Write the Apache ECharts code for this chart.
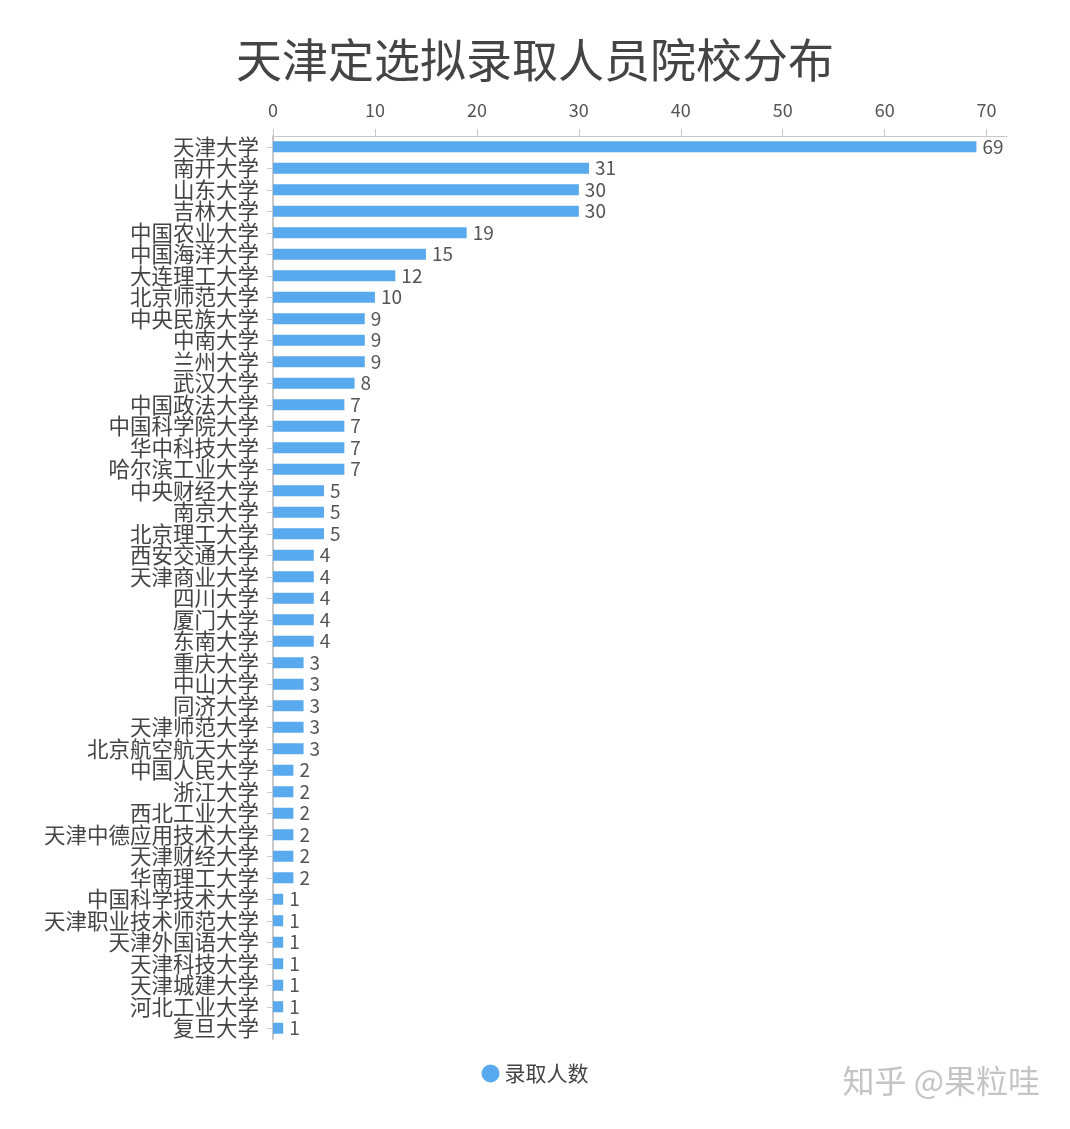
<!DOCTYPE html>
<html><head><meta charset="utf-8">
<script src="https://cdn.jsdelivr.net/npm/echarts@6/dist/echarts.min.js"></script>
<style>html,body{margin:0;padding:0;background:#fff}#c{width:1070px;height:1129px}</style>
</head><body><div id="c"></div>
<script>
const categories = ["天津大学","南开大学","山东大学","吉林大学","中国农业大学","中国海洋大学","大连理工大学","北京师范大学","中央民族大学","中南大学","兰州大学","武汉大学","中国政法大学","中国科学院大学","华中科技大学","哈尔滨工业大学","中央财经大学","南京大学","北京理工大学","西安交通大学","天津商业大学","四川大学","厦门大学","东南大学","重庆大学","中山大学","同济大学","天津师范大学","北京航空航天大学","中国人民大学","浙江大学","西北工业大学","天津中德应用技术大学","天津财经大学","华南理工大学","中国科学技术大学","天津职业技术师范大学","天津外国语大学","天津科技大学","天津城建大学","河北工业大学","复旦大学"];
const counts = [69,31,30,30,19,15,12,10,9,9,9,8,7,7,7,7,5,5,5,4,4,4,4,4,3,3,3,3,3,2,2,2,2,2,2,1,1,1,1,1,1,1];
const xTicks = [0,10,20,30,40,50,60,70];
const seriesName = "录取人数";
const titleText = "天津定选拟录取人员院校分布";
const watermark = "知乎 @果粒哇";

const chart = echarts.init(document.getElementById('c'));
const font = '"Noto Sans CJK SC","Noto Sans",sans-serif';
chart.setOption({
  animation: false,
  textStyle: {fontFamily: font},
  title: {text: titleText, left: 'center', top: 32,
    textStyle: {fontSize: 46, fontWeight: 'normal', color: '#444', fontFamily: font}},
  legend: {data: [seriesName], bottom: 40, left: 'center', icon: 'circle', itemWidth: 18, itemHeight: 18,
    textStyle: {fontSize: 21, color: '#444'}},
  grid: {left: 273, right: 63, top: 136, bottom: 90, containLabel: false},
  xAxis: {type: 'value', position: 'top', min: 0, max: 72, interval: 10,
    axisLine: {show: true, lineStyle: {color: '#c8c8c8'}},
    axisTick: {show: true, length: 7, lineStyle: {color: '#c8c8c8'}, customValues: xTicks},
    axisLabel: {fontSize: 18, color: '#555', margin: 17, customValues: xTicks},
    splitLine: {show: false}},
  yAxis: {type: 'category', inverse: true, data: categories,
    axisLine: {show: true, lineStyle: {color: '#c8c8c8', width: 2}},
    axisTick: {show: true, alignWithLabel: true, length: 6, lineStyle: {color: '#c8c8c8'}},
    axisLabel: {fontSize: 21.5, color: '#444', margin: 14, interval: 0}},
  series: [{name: seriesName, type: 'bar', data: counts, barWidth: 11,
    itemStyle: {color: '#58a9ee'},
    label: {show: true, position: 'right', distance: 6, fontSize: 19, color: '#555'}}],
  graphic: [{type: 'text', right: 30, bottom: 32,
    style: {text: watermark, fontSize: 32, fill: '#c4c4c4', fontFamily: font}}]
});
</script></body></html>
